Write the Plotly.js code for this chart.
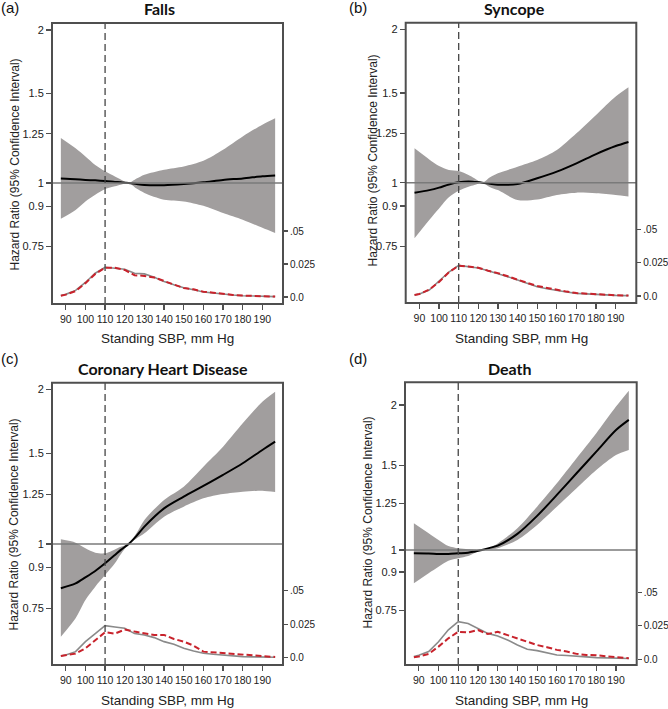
<!DOCTYPE html>
<html>
<head>
<meta charset="utf-8">
<script src="https://cdn.plot.ly/plotly-3.0.1.min.js"></script>
<style>html,body{margin:0;padding:0;background:#fff;}#chart{width:668px;height:709px;}</style>
</head>
<body>
<div id="chart"></div>
<script>
// ---------- DATA ----------
const panelTitles = ["Falls", "Syncope", "Coronary Heart Disease", "Death"];
const panelLabels = ["(a)", "(b)", "(c)", "(d)"];
const xTitle = "Standing SBP, mm Hg";
const yTitle = "Hazard Ratio (95% Confidence Interval)";
const hrTickVals = [0.75, 0.9, 1, 1.25, 1.5, 2];
const hrTickText = ["0.75", "0.9", "1", "1.25", "1.5", "2"];
const densTickVals = [0, 0.025, 0.05];
const densTickText = ["0.0", "0.025", ".05"];
const xTickVals = [90, 100, 110, 120, 130, 140, 150, 160, 170, 180, 190];
const refSBP = 110;

// SBP grid for hazard-ratio curves
const sbpHR = [87.5, 95, 100, 105, 110, 115, 118, 122, 126, 130, 140, 150, 160, 170, 180, 190, 196.5];

const fallsUpper = [1.226, 1.17, 1.128, 1.085, 1.054, 1.03, 1.016, 1.0, 1.02, 1.038, 1.062, 1.078, 1.106, 1.163, 1.235, 1.302, 1.341];
const fallsLower = [0.85, 0.885, 0.92, 0.948, 0.973, 0.985, 0.992, 1.0, 0.975, 0.956, 0.927, 0.92, 0.902, 0.873, 0.847, 0.816, 0.797];
const fallsHR    = [1.02, 1.017, 1.014, 1.012, 1.009, 1.005, 1.003, 1.0, 0.995, 0.991, 0.99, 0.995, 1.003, 1.014, 1.021, 1.031, 1.035];

const syncUpper = [1.168, 1.111, 1.078, 1.059, 1.054, 1.035, 1.02, 1.0, 1.025, 1.043, 1.075, 1.108, 1.159, 1.25, 1.358, 1.476, 1.539];
const syncLower = [0.778, 0.845, 0.89, 0.936, 0.964, 0.982, 0.99, 1.0, 0.98, 0.967, 0.925, 0.927, 0.946, 0.956, 0.953, 0.946, 0.939];
const syncHR    = [0.956, 0.967, 0.978, 0.992, 1.0015, 1.005, 1.003, 1.0, 0.995, 0.991, 0.994, 1.02, 1.051, 1.091, 1.138, 1.18, 1.202];

const chdUpper = [1.021, 1.006, 0.981, 0.962, 0.959, 0.976, 0.988, 1.0, 1.05, 1.114, 1.218, 1.293, 1.414, 1.546, 1.717, 1.892, 1.979];
const chdLower = [0.66, 0.717, 0.778, 0.826, 0.87, 0.917, 0.955, 1.0, 1.025, 1.049, 1.13, 1.182, 1.227, 1.251, 1.264, 1.27, 1.262];
const chdHR    = [0.82, 0.838, 0.861, 0.886, 0.917, 0.952, 0.974, 1.0, 1.037, 1.081, 1.173, 1.236, 1.297, 1.363, 1.436, 1.524, 1.582];

const deathUpper = [1.136, 1.083, 1.049, 1.019, 1.008, 1.003, 1.001, 1.0, 1.012, 1.032, 1.109, 1.23, 1.375, 1.55, 1.747, 1.985, 2.142];
const deathLower = [0.853, 0.895, 0.923, 0.95, 0.961, 0.972, 0.985, 1.0, 1.003, 1.008, 1.049, 1.127, 1.23, 1.343, 1.466, 1.575, 1.613];
const deathHR    = [0.984, 0.983, 0.981, 0.981, 0.984, 0.987, 0.992, 1.0, 1.01, 1.021, 1.08, 1.177, 1.301, 1.443, 1.6, 1.774, 1.862];

// SBP grid for density curves
const sbpDens = [87.5, 90, 95, 100, 105, 110, 115, 120, 125, 130, 135, 140, 145, 150, 155, 160, 165, 170, 175, 180, 185, 190, 196.5];

const fallsDensAll   = [0.0012, 0.002, 0.005, 0.011, 0.018, 0.0225, 0.0218, 0.021, 0.018, 0.0175, 0.015, 0.0118, 0.0093, 0.007, 0.0055, 0.0038, 0.003, 0.002, 0.0015, 0.001, 0.0008, 0.0005, 0.0003];
const fallsDensEvent = [0.001, 0.0018, 0.0045, 0.0105, 0.0175, 0.0222, 0.0222, 0.0205, 0.0165, 0.016, 0.0148, 0.012, 0.009, 0.0068, 0.0058, 0.004, 0.0033, 0.0022, 0.0016, 0.0011, 0.0008, 0.0006, 0.0003];

const syncDensAll   = [0.0008, 0.0015, 0.0045, 0.011, 0.018, 0.023, 0.022, 0.021, 0.019, 0.017, 0.0145, 0.012, 0.0095, 0.007, 0.0055, 0.004, 0.003, 0.002, 0.0015, 0.001, 0.0008, 0.0005, 0.0003];
const syncDensEvent = [0.0008, 0.0015, 0.0048, 0.0105, 0.0178, 0.0228, 0.0222, 0.0212, 0.019, 0.0172, 0.0148, 0.012, 0.0098, 0.0075, 0.006, 0.0043, 0.0033, 0.0022, 0.0017, 0.0012, 0.0009, 0.0006, 0.0003];

const chdDensAll   = [0.0012, 0.002, 0.0045, 0.012, 0.018, 0.024, 0.023, 0.022, 0.018, 0.017, 0.015, 0.012, 0.010, 0.007, 0.005, 0.0033, 0.0025, 0.0018, 0.0012, 0.0008, 0.0006, 0.0005, 0.0003];
const chdDensEvent = [0.0012, 0.0018, 0.003, 0.007, 0.013, 0.019, 0.018, 0.021, 0.0195, 0.018, 0.017, 0.017, 0.014, 0.012, 0.009, 0.0045, 0.004, 0.003, 0.0025, 0.002, 0.0015, 0.001, 0.0005];

const deathDensAll   = [0.002, 0.003, 0.0057, 0.013, 0.022, 0.028, 0.0267, 0.023, 0.0193, 0.0173, 0.0144, 0.0106, 0.0074, 0.0064, 0.005, 0.0032, 0.0028, 0.0025, 0.0018, 0.0012, 0.001, 0.0008, 0.0006];
const deathDensEvent = [0.0015, 0.002, 0.004, 0.0094, 0.0156, 0.0205, 0.02, 0.0218, 0.0188, 0.0205, 0.018, 0.0156, 0.013, 0.0106, 0.009, 0.007, 0.0057, 0.004, 0.0032, 0.003, 0.0022, 0.0015, 0.0008];

// ---------- LAYOUT / DRAWING ----------
const W = 668, H = 709;
const FONT = "Liberation Sans, Arial, sans-serif";
const TITLE_FONT = "Lato, Open Sans, sans-serif";
const FRAME = "#4f4f4f";

const panels = [
  {upper: fallsUpper, lower: fallsLower, hr: fallsHR, dAll: fallsDensAll, dEv: fallsDensEvent,
   box: [52, 283, 23, 304], yr: [0.578, 2.064], dr: [-0.0053, 0.2076],
   title: [159, 9], label: [10, 8], ytitle: [15, 164.5], xtitle: [167, 339]},
  {upper: syncUpper, lower: syncLower, hr: syncHR, dAll: syncDensAll, dEv: syncDensEvent,
   box: [405.7, 636.3, 22.7, 303], yr: [0.5807, 2.06], dr: [-0.00525, 0.2052],
   title: [514, 9], label: [358, 8], ytitle: [372, 160.5], xtitle: [521, 339]},
  {upper: chdUpper, lower: chdLower, hr: chdHR, dAll: chdDensAll, dEv: chdDensEvent,
   box: [52, 283, 382.7, 665], yr: [0.5815, 2.06], dr: [-0.0055, 0.2058],
   title: [162.5, 368], label: [10, 358], ytitle: [13, 524.5], xtitle: [167.5, 700]},
  {upper: deathUpper, lower: deathLower, hr: deathHR, dAll: deathDensAll, dEv: deathDensEvent,
   box: [405, 636.7, 382.3, 665], yr: [0.577, 2.229], dr: [-0.0043, 0.2067],
   title: [509.7, 368], label: [358, 358], ytitle: [367, 522.5], xtitle: [521.5, 700]}
];

const traces = [];
const layout = {
  width: W, height: H,
  margin: {l: 0, r: 0, t: 0, b: 0},
  paper_bgcolor: "#ffffff", plot_bgcolor: "rgba(0,0,0,0)",
  showlegend: false,
  font: {family: FONT, size: 11, color: "#222"},
  shapes: [], annotations: []
};

const px = v => v / W, py = v => 1 - v / H;

panels.forEach((p, i) => {
  const xn = i === 0 ? "x" : "x" + (i + 1);
  const yHn = "y" + (2 * i + 1 === 1 ? "" : (2 * i + 1));
  const yDn = "y" + (2 * i + 2);
  const xKey = i === 0 ? "xaxis" : "xaxis" + (i + 1);
  const yHKey = 2 * i + 1 === 1 ? "yaxis" : "yaxis" + (2 * i + 1);
  const yDKey = "yaxis" + (2 * i + 2);
  const [l, r, t, b] = p.box;

  layout[xKey] = {
    domain: [px(l), px(r)], anchor: yHn, range: [83, 200.5],
    tickmode: "array", tickvals: xTickVals, ticks: "outside", ticklen: 5, tickwidth: 1.2,
    tickangle: 0, tickcolor: FRAME, showline: false,
    showgrid: false, zeroline: false, tickfont: {size: 10.5, color: "#222"}, fixedrange: true
  };
  layout[yHKey] = {
    domain: [py(b), py(t)], anchor: xn, type: "log",
    range: [Math.log10(p.yr[0]), Math.log10(p.yr[1])],
    tickmode: "array", tickvals: hrTickVals, ticktext: hrTickText,
    ticks: "outside", ticklen: 5, tickwidth: 1.2, tickcolor: FRAME,
    showline: false, showgrid: false, zeroline: false,
    tickfont: {size: 11, color: "#222"}, fixedrange: true
  };
  layout[yDKey] = {
    overlaying: yHn, anchor: xn, side: "right", range: p.dr,
    tickmode: "array", tickvals: densTickVals, ticktext: densTickText,
    ticks: "outside", ticklen: 4, tickwidth: 1.2, tickcolor: FRAME,
    showline: false, showgrid: false, zeroline: false,
    tickfont: {size: 10, color: "#222"}, fixedrange: true
  };

  // CI band
  traces.push({x: sbpHR, y: p.upper, xaxis: xn, yaxis: yHn, type: "scatter", mode: "lines",
    line: {width: 0, shape: "spline", smoothing: 0.8}, hoverinfo: "skip"});
  traces.push({x: sbpHR, y: p.lower, xaxis: xn, yaxis: yHn, type: "scatter", mode: "lines",
    fill: "tonexty", fillcolor: "#a19e9e",
    line: {width: 0, shape: "spline", smoothing: 0.8}, hoverinfo: "skip"});
  // density curves
  traces.push({x: sbpDens, y: p.dAll, xaxis: xn, yaxis: yDn, type: "scatter", mode: "lines",
    line: {color: "#8a8a8a", width: 1.6}});
  traces.push({x: sbpDens, y: p.dEv, xaxis: xn, yaxis: yDn, type: "scatter", mode: "lines",
    line: {color: "#c8232c", width: 2, dash: "6px,3px"}});
  // HR curve
  traces.push({x: sbpHR, y: p.hr, xaxis: xn, yaxis: yHn, type: "scatter", mode: "lines",
    line: {color: "#000000", width: 2, shape: "spline", smoothing: 0.8}});

  // reference lines
  layout.shapes.push({type: "line", xref: xn + " domain", x0: 0, x1: 1, yref: yHn, y0: 1, y1: 1,
    line: {color: "#7a7a7a", width: 1.4}, layer: "above"});
  layout.shapes.push({type: "line", xref: xn, x0: refSBP, x1: refSBP, yref: yHn + " domain", y0: 0, y1: 1,
    line: {color: "#444", width: 1.3, dash: "7px,4px"}, layer: "above"});
  // plot frame
  layout.shapes.push({type: "rect", xref: "paper", yref: "paper",
    x0: px(l), x1: px(r), y0: py(b), y1: py(t),
    line: {color: FRAME, width: 2}, layer: "above"});

  // texts
  layout.annotations.push({text: "<b>" + panelTitles[i] + "</b>", xref: "paper", yref: "paper",
    x: px(p.title[0]), y: py(p.title[1]), xanchor: "center", yanchor: "middle", showarrow: false,
    font: {family: TITLE_FONT, size: 16, color: "#111"}});
  layout.annotations.push({text: panelLabels[i], xref: "paper", yref: "paper",
    x: px(p.label[0]), y: py(p.label[1]), xanchor: "center", yanchor: "middle", showarrow: false,
    font: {family: FONT, size: 15, color: "#111"}});
  layout.annotations.push({text: yTitle, xref: "paper", yref: "paper", textangle: -90,
    x: px(p.ytitle[0]), y: py(p.ytitle[1]), xanchor: "center", yanchor: "middle", showarrow: false,
    font: {family: FONT, size: 12, color: "#222"}});
  layout.annotations.push({text: xTitle, xref: "paper", yref: "paper",
    x: px(p.xtitle[0]), y: py(p.xtitle[1]), xanchor: "center", yanchor: "middle", showarrow: false,
    font: {family: FONT, size: 13.5, color: "#222"}});
});

Plotly.newPlot("chart", traces, layout, {staticPlot: true, displayModeBar: false});
</script>
</body>
</html>
